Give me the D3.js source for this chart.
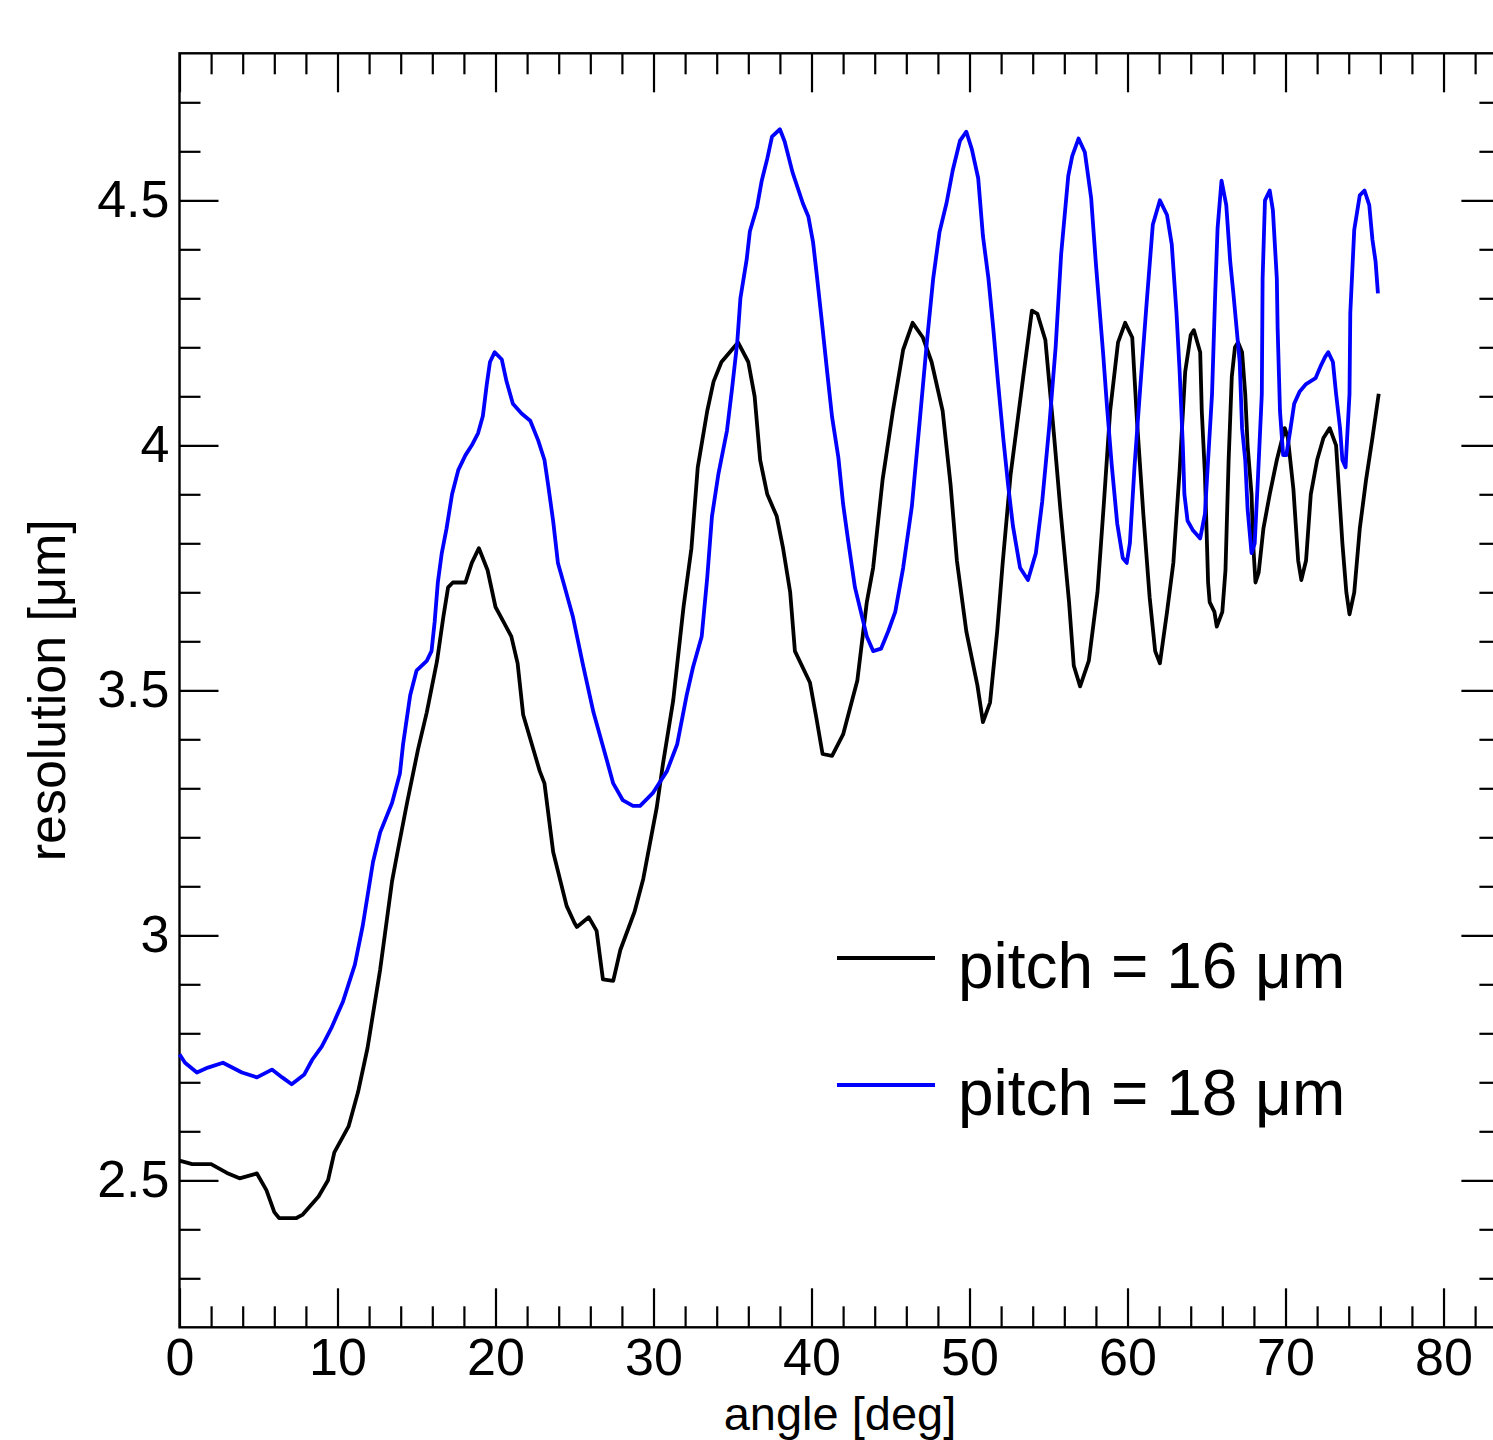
<!DOCTYPE html>
<html><head><meta charset="utf-8">
<script src="https://cdn.jsdelivr.net/npm/d3@7"></script>
<style>
body{margin:0;background:#fff}
svg{display:block}
text{font-family:"Liberation Sans",Arial,Helvetica,sans-serif;fill:#000}
</style>
</head><body>
<svg id="chart" width="1493" height="1440"></svg>
<script>
// ---------- data ----------
const angle16 = [0,0.8,2.0,3.0,3.8,4.9,5.5,6.0,6.3,7.4,7.8,8.8,9.4,9.8,10.7,11.3,11.9,12.7,13.45,13.8,14.4,15.1,15.65,16.3,16.7,17.0,17.3,18.1,18.5,18.95,19.5,20.0,20.5,21.0,21.4,21.75,22.3,22.8,23.1,23.65,24.5,25.0,25.15,25.9,26.4,26.8,27.45,27.9,28.8,29.35,30.2,30.6,31.25,31.9,32.4,32.8,33.4,33.8,34.3,35.35,36.0,36.4,36.75,37.2,37.8,38.2,38.65,38.95,39.9,40.3,40.7,41.3,42.0,42.9,43.5,43.9,44.5,45.15,45.8,46.4,47.05,47.6,48.3,48.8,49.2,49.8,50.5,50.85,51.3,51.75,52.1,52.6,53.4,53.95,54.3,54.8,55.35,55.75,56.3,56.6,57.0,57.55,58.1,58.5,58.9,59.4,59.85,60.3,60.6,61.0,61.4,61.75,62.05,62.5,62.9,63.3,63.65,64.0,64.2,64.6,64.7,64.9,65.0,65.1,65.2,65.5,65.65,66.0,66.2,66.4,66.6,66.8,67.0,67.25,67.45,67.6,67.85,67.95,68.1,68.3,68.6,69.0,69.45,69.8,69.95,70.15,70.5,70.8,71.0,71.3,71.6,72.0,72.4,72.8,73.2,73.4,73.6,73.85,74.05,74.35,74.7,75.1,75.5,75.9];
const res16 = [2.54,2.533,2.533,2.515,2.504,2.514,2.48,2.435,2.423,2.423,2.43,2.467,2.50,2.557,2.61,2.68,2.77,2.93,3.11,3.17,3.27,3.38,3.455,3.56,3.65,3.71,3.72,3.72,3.76,3.79,3.745,3.67,3.64,3.61,3.555,3.45,3.39,3.335,3.31,3.17,3.06,3.025,3.017,3.037,3.009,2.91,2.907,2.97,3.048,3.115,3.26,3.35,3.48,3.67,3.79,3.955,4.07,4.13,4.17,4.21,4.17,4.10,3.97,3.90,3.855,3.79,3.70,3.58,3.516,3.445,3.37,3.366,3.41,3.52,3.68,3.75,3.93,4.07,4.195,4.25,4.22,4.17,4.07,3.92,3.765,3.62,3.51,3.435,3.475,3.62,3.76,3.94,4.14,4.275,4.268,4.215,4.02,3.87,3.68,3.55,3.508,3.56,3.70,3.88,4.07,4.21,4.25,4.22,4.05,3.86,3.69,3.58,3.555,3.66,3.76,3.95,4.15,4.225,4.235,4.19,4.07,3.94,3.83,3.72,3.68,3.66,3.63,3.66,3.745,3.97,4.14,4.20,4.21,4.19,4.105,4.00,3.90,3.80,3.72,3.74,3.83,3.90,3.97,4.015,4.035,4.015,3.91,3.765,3.725,3.765,3.90,3.97,4.015,4.035,4.00,3.90,3.80,3.70,3.655,3.70,3.83,3.93,4.015,4.105];

const angle18 = [0,0.35,1.1,1.8,2.75,3.95,4.9,5.85,6.5,7.1,7.9,8.4,9.0,9.6,10.35,11.1,11.6,12.25,12.7,13.45,13.95,14.15,14.6,15.0,15.65,15.95,16.15,16.35,16.6,16.9,17.25,17.65,18.1,18.5,18.9,19.2,19.45,19.65,19.95,20.4,20.7,21.1,21.65,22.2,22.7,23.1,23.35,23.65,23.95,24.3,24.9,25.55,26.2,26.8,27.45,28.05,28.7,29.15,29.95,30.85,31.5,32.1,32.5,33.05,33.4,33.7,34.1,34.65,34.95,35.3,35.5,35.9,36.1,36.55,36.85,37.2,37.5,38.0,38.3,38.8,39.45,39.8,40.1,40.35,40.65,41.0,41.3,41.7,42.0,42.3,42.75,43.2,43.5,43.9,44.4,44.85,45.3,45.8,46.35,46.85,47.3,47.7,48.1,48.55,48.95,49.4,49.8,50.15,50.55,50.85,51.2,51.5,51.8,52.15,52.45,52.75,53.2,53.7,54.2,54.6,55.05,55.45,55.8,56.25,56.5,56.9,57.3,57.7,58.0,58.45,58.7,59.0,59.35,59.7,59.95,60.15,60.45,60.8,61.2,61.6,62.05,62.5,62.8,63.1,63.3,63.5,63.6,63.8,64.15,64.6,64.9,65.1,65.35,65.55,65.7,65.95,66.25,66.5,66.7,66.9,67.1,67.25,67.45,67.6,67.85,68.05,68.25,68.5,68.55,68.7,69.0,69.2,69.45,69.5,69.65,69.85,70.05,70.25,70.55,70.9,71.3,71.9,72.2,72.5,72.7,73.0,73.2,73.45,73.6,73.8,74.05,74.1,74.35,74.7,75.0,75.3,75.5,75.7,75.85];
const res18 = [2.757,2.74,2.72,2.73,2.74,2.72,2.71,2.726,2.71,2.696,2.716,2.746,2.773,2.81,2.865,2.94,3.02,3.15,3.21,3.27,3.33,3.39,3.49,3.54,3.56,3.58,3.64,3.72,3.78,3.83,3.90,3.95,3.98,4.00,4.025,4.06,4.125,4.17,4.19,4.175,4.13,4.085,4.065,4.05,4.01,3.97,3.915,3.845,3.76,3.72,3.65,3.55,3.455,3.386,3.31,3.276,3.264,3.264,3.29,3.335,3.39,3.49,3.547,3.61,3.73,3.855,3.94,4.03,4.11,4.21,4.30,4.38,4.437,4.486,4.54,4.585,4.63,4.645,4.62,4.557,4.494,4.467,4.414,4.343,4.254,4.147,4.058,3.975,3.88,3.81,3.71,3.65,3.61,3.58,3.585,3.62,3.66,3.75,3.875,4.05,4.21,4.34,4.435,4.495,4.563,4.622,4.64,4.604,4.545,4.427,4.34,4.24,4.13,4.01,3.917,3.835,3.75,3.725,3.78,3.885,4.04,4.20,4.39,4.55,4.59,4.626,4.598,4.504,4.37,4.19,4.08,3.96,3.84,3.77,3.76,3.80,3.96,4.115,4.286,4.45,4.50,4.47,4.41,4.27,4.15,4.00,3.90,3.846,3.826,3.81,3.86,3.97,4.105,4.31,4.443,4.54,4.49,4.375,4.31,4.24,4.17,4.035,3.97,3.87,3.78,3.80,3.93,4.105,4.34,4.50,4.52,4.48,4.34,4.24,4.07,3.98,3.98,4.02,4.085,4.11,4.125,4.137,4.16,4.18,4.19,4.17,4.105,4.035,3.97,3.955,4.105,4.27,4.44,4.51,4.52,4.49,4.42,4.375,4.31];

const seriesNames = ["pitch = 16 \u03bcm", "pitch = 18 \u03bcm"];
const seriesColors = ["#000000", "#0000ff"];

const xMajorTicks = [0,10,20,30,40,50,60,70,80];
const xMinorTicks = [2,4,6,8,12,14,16,18,22,24,26,28,32,34,36,38,42,44,46,48,52,54,56,58,62,64,66,68,72,74,76,78,82];
const yMajorTicks = [2.5,3,3.5,4,4.5];
const yMajorLabels = ["2.5","3","3.5","4","4.5"];
const yMinorTicks = [2.3,2.4,2.6,2.7,2.8,2.9,3.1,3.2,3.3,3.4,3.6,3.7,3.8,3.9,4.1,4.2,4.3,4.4,4.6,4.7];

const xTitle = "angle [deg]";
const yTitle = "resolution [\u03bcm]";

// ---------- layout ----------
const L = 179.5, R = 1500.4, T = 53.3, B = 1327.3;
const svg = d3.select("#chart");
const x = d3.scaleLinear().domain([0, 83.6]).range([L, R]);
const y = d3.scaleLinear().domain([2.2, 4.8]).range([B, T]);

const MAJ = 39, MIN = 21, FS = 52;

function styleAxis(g){
  g.select(".domain").remove();
  g.selectAll(".tick line").attr("stroke","#000").attr("stroke-width",2.2);
  g.selectAll(".tick text").attr("font-size",FS).attr("font-family",'"Liberation Sans",Arial,sans-serif').attr("fill","#000");
}

// bottom
svg.append("g").attr("transform",`translate(0,${B})`)
  .call(d3.axisBottom(x).tickValues(xMajorTicks).tickSize(-MAJ).tickPadding(11).tickFormat(d3.format("d"))).call(styleAxis);
svg.append("g").attr("transform",`translate(0,${B})`)
  .call(d3.axisBottom(x).tickValues(xMinorTicks).tickSize(-MIN).tickFormat("")).call(styleAxis);
// top
svg.append("g").attr("transform",`translate(0,${T})`)
  .call(d3.axisTop(x).tickValues(xMajorTicks).tickSize(-MAJ).tickFormat("")).call(styleAxis);
svg.append("g").attr("transform",`translate(0,${T})`)
  .call(d3.axisTop(x).tickValues(xMinorTicks).tickSize(-MIN).tickFormat("")).call(styleAxis);
// left
svg.append("g").attr("transform",`translate(${L},0)`)
  .call(d3.axisLeft(y).tickValues(yMajorTicks).tickSize(-MAJ).tickPadding(10).tickFormat((d,i)=>yMajorLabels[i])).call(styleAxis);
svg.append("g").attr("transform",`translate(${L},0)`)
  .call(d3.axisLeft(y).tickValues(yMinorTicks).tickSize(-MIN).tickFormat("")).call(styleAxis);
// right
svg.append("g").attr("transform",`translate(${R},0)`)
  .call(d3.axisRight(y).tickValues(yMajorTicks).tickSize(-MAJ).tickFormat("")).call(styleAxis);
svg.append("g").attr("transform",`translate(${R},0)`)
  .call(d3.axisRight(y).tickValues(yMinorTicks).tickSize(-MIN).tickFormat("")).call(styleAxis);

// frame
svg.append("rect").attr("x",L).attr("y",T).attr("width",R-L).attr("height",B-T)
  .attr("fill","none").attr("stroke","#000").attr("stroke-width",2.4);

// curves
const line = d3.line().x(d=>x(d[0])).y(d=>y(d[1]));
const series = [
  d3.zip(angle16, res16),
  d3.zip(angle18, res18)
];
series.forEach((s,i)=>{
  svg.append("path").datum(s).attr("d",line).attr("fill","none")
    .attr("stroke",seriesColors[i]).attr("stroke-width",3.8).attr("stroke-linejoin","round");
});

// legend
const legY = [958, 1085];
seriesNames.forEach((name,i)=>{
  svg.append("line").attr("x1",837).attr("x2",935).attr("y1",legY[i]).attr("y2",legY[i])
    .attr("stroke",seriesColors[i]).attr("stroke-width",3.8);
  svg.append("text").attr("x",958).attr("y",legY[i]+30).attr("font-size",64).text(name);
});

// titles
svg.append("text").attr("x",(L+R)/2).attr("y",1429.5).attr("text-anchor","middle").attr("font-size",47).text(xTitle);
svg.append("text").attr("transform",`translate(65,${(T+B)/2}) rotate(-90)`).attr("text-anchor","middle").attr("font-size",FS).text(yTitle);
</script>
</body></html>
